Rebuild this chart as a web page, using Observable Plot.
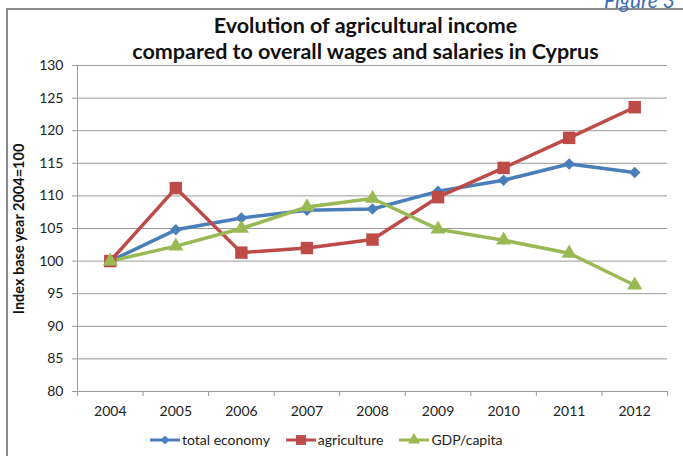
<!DOCTYPE html>
<html>
<head>
<meta charset="utf-8">
<script src="https://cdn.jsdelivr.net/npm/d3@7"></script>
<script src="https://cdn.jsdelivr.net/npm/@observablehq/plot@0.6"></script>
<style>
  html, body { margin: 0; padding: 0; background: #fff; }
  #wrap { position: relative; width: 683px; height: 456px; overflow: hidden; font-family: Lato, "Open Sans", sans-serif; }
  #frame { position: absolute; left: 6px; top: 8px; width: 700px; height: 460px; border-left: 2px solid #8c8c8c; border-top: 2px solid #8c8c8c; }
  #fig { position: absolute; right: 8px; top: -13px; font-size: 21px; font-style: italic; color: #3a6db5; }
  #title { position: absolute; left: 0; width: 683px; text-align: center; top: 12px; font-weight: bold; font-size: 21.5px; line-height: 26px; color: #111; padding-left: 48px; box-sizing: border-box; }
  #ylabel { position: absolute; left: 18px; top: 229px; transform: translate(-50%, -50%) rotate(-90deg); white-space: nowrap; font-weight: bold; font-size: 14.5px; color: #111; }
  #legend { position: absolute; top: 431px; left: 150px; display: flex; align-items: center; font-size: 14px; color: #222; }
  #legend .item { display: flex; align-items: center; margin-right: 16px; }
  #legend svg { margin-right: 2px; }
  #plot { position: absolute; left: 0; top: 0; }
</style>
</head>
<body>
<div id="wrap">
  <div id="frame"></div>
  <div id="fig">Figure 3</div>
  <div id="plot"></div>
  <div id="title">Evolution of agricultural income<br>compared to overall wages and salaries in Cyprus</div>
  <div id="ylabel">Index base year 2004=100</div>
  <div id="legend"></div>
</div>
<script>
const years = [2004, 2005, 2006, 2007, 2008, 2009, 2010, 2011, 2012];
const totalEconomy = [100, 104.8, 106.6, 107.8, 108.0, 110.7, 112.4, 114.9, 113.6];
const agriculture = [100, 111.2, 101.3, 102.0, 103.3, 109.8, 114.3, 118.9, 123.6];
const gdpCapita = [100, 102.3, 105.0, 108.3, 109.6, 104.9, 103.2, 101.2, 96.3];
const seriesNames = ["total economy", "agriculture", "GDP/capita"];
const seriesColors = ["#4a7ebb", "#be4b48", "#98b954"];
const seriesSymbols = ["diamond2", "square", "triangle"];
const seriesRadius = [5.2, 7.0, 5.6];
const yTicks = [80, 85, 90, 95, 100, 105, 110, 115, 120, 125, 130];

const allValues = [totalEconomy, agriculture, gdpCapita];
const data = [];
allValues.forEach((vals, i) => vals.forEach((v, j) => data.push({series: seriesNames[i], year: years[j], value: v})));

const boundaries = years.map(y => y - 0.5).concat([years[years.length - 1] + 0.5]);
const xDomain = [boundaries[0], boundaries[boundaries.length - 1]];

const marks = [
  Plot.gridY(yTicks, {stroke: "#9a9a9a", strokeOpacity: 1, strokeWidth: 1}),
  Plot.ruleX([xDomain[0]], {stroke: "#9a9a9a", strokeWidth: 1}),
  Plot.axisY(yTicks, {tickSize: 5, tickPadding: 9, stroke: "#9a9a9a", fontSize: 14, fill: "#222", label: null}),
  Plot.axisX(boundaries, {tickSize: 5, stroke: "#9a9a9a", tickFormat: () => "", label: null}),
  Plot.axisX(years, {tickSize: 0, tickPadding: 15, tickFormat: d => String(d), fontSize: 14, fill: "#222", label: null})
];
seriesNames.forEach((name, i) => {
  const d = data.filter(r => r.series === name);
  marks.push(Plot.line(d, {x: "year", y: "value", stroke: seriesColors[i], strokeWidth: 3.5}));
});
seriesNames.forEach((name, i) => {
  const d = data.filter(r => r.series === name);
  marks.push(Plot.dot(d, {x: "year", y: "value", fill: seriesColors[i], stroke: "none", symbol: seriesSymbols[i], r: seriesRadius[i]}));
});

const chart = Plot.plot({
  width: 683,
  height: 456,
  marginLeft: 77,
  marginRight: 16,
  marginTop: 65,
  marginBottom: 65,
  style: {background: "transparent", fontFamily: "Lato, 'Open Sans', sans-serif"},
  x: {type: "linear", domain: xDomain, axis: null},
  y: {domain: [80, 130], axis: null},
  marks
});
document.getElementById("plot").appendChild(chart);

const legend = document.getElementById("legend");
seriesNames.forEach((name, i) => {
  const item = document.createElement("div");
  item.className = "item";
  const sym = d3.symbol(i === 0 ? d3.symbolDiamond2 : i === 1 ? d3.symbolSquare : d3.symbolTriangle, Math.PI * Math.pow(seriesRadius[i] * 0.8, 2));
  item.innerHTML = `<svg width="30" height="14"><line x1="0" x2="30" y1="7" y2="7" stroke="${seriesColors[i]}" stroke-width="3"/><path transform="translate(15,7)" d="${sym()}" fill="${seriesColors[i]}"/></svg><span>${name}</span>`;
  legend.appendChild(item);
});
</script>
</body>
</html>
